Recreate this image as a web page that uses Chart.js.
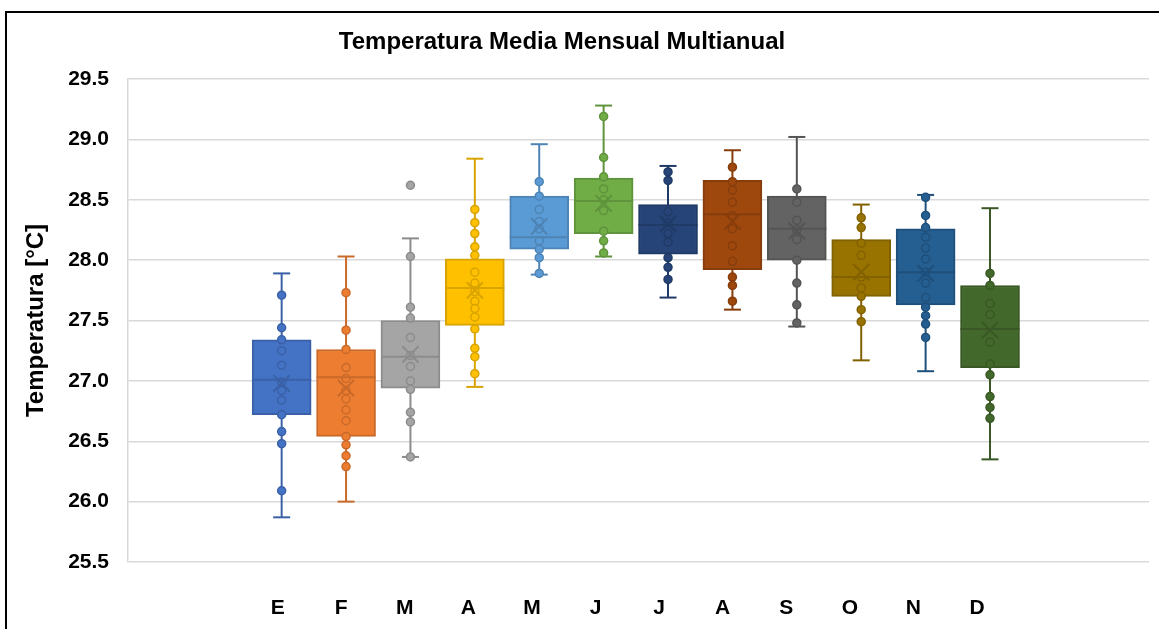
<!DOCTYPE html>
<html>
<head>
<meta charset="utf-8">
<script src="https://cdn.jsdelivr.net/npm/chart.js@4.4.1/dist/chart.umd.min.js"></script>
<style>
  html, body { margin: 0; padding: 0; background: #fff; overflow: hidden; }
  #wrap { position: relative; width: 1159px; height: 629px; }
  #frame { position: absolute; left: 5px; top: 11px; width: 1200px; height: 700px; border: 2px solid #000; box-sizing: border-box; pointer-events: none; }
  canvas { position: absolute; left: 0; top: 0; }
</style>
</head>
<body>
<div id="wrap">
  <canvas id="myChart" width="1159" height="629"></canvas>
  <div id="frame"></div>
</div>
<script>
const months = ['E', 'F', 'M', 'A', 'M', 'J', 'J', 'A', 'S', 'O', 'N', 'D'];

// box statistics (°C)
const whiskerLow  = [25.87, 26.00, 26.37, 26.95, 27.88, 28.03, 27.69, 27.59, 27.45, 27.17, 27.08, 26.35];
const q1          = [26.72, 26.54, 26.94, 27.46, 28.09, 28.22, 28.05, 27.92, 28.00, 27.70, 27.63, 27.11];
const median      = [27.01, 27.03, 27.20, 27.77, 28.19, 28.49, 28.29, 28.38, 28.26, 27.86, 27.90, 27.43];
const q3          = [27.34, 27.26, 27.50, 28.01, 28.53, 28.68, 28.46, 28.66, 28.53, 28.17, 28.26, 27.79];
const whiskerHigh = [27.89, 28.03, 28.18, 28.84, 28.96, 29.28, 28.78, 28.91, 29.02, 28.46, 28.54, 28.43];
const mean        = [26.98, 26.94, 27.22, 27.75, 28.28, 28.47, 28.30, 28.32, 28.24, 27.90, 27.89, 27.42];

// individual yearly values
const ptsEne = [27.71, 27.44, 27.34, 27.25, 27.13, 26.99, 26.92, 26.84, 26.72, 26.58, 26.48, 26.09];
const ptsFeb = [27.73, 27.42, 27.26, 27.11, 27.02, 26.92, 26.85, 26.76, 26.67, 26.54, 26.47, 26.38, 26.29];
const ptsMar = [28.62, 28.03, 27.61, 27.52, 27.36, 27.21, 27.12, 27.00, 26.93, 26.74, 26.66, 26.37];
const ptsAbr = [28.42, 28.31, 28.22, 28.11, 28.04, 27.90, 27.81, 27.74, 27.66, 27.60, 27.53, 27.43, 27.27, 27.20, 27.06];
const ptsMay = [28.65, 28.53, 28.42, 28.32, 28.26, 28.16, 28.09, 28.02, 27.89];
const ptsJun = [29.19, 28.85, 28.69, 28.59, 28.50, 28.41, 28.24, 28.16, 28.06];
const ptsJul = [28.73, 28.66, 28.40, 28.31, 28.22, 28.15, 28.02, 27.94, 27.84];
const ptsAgo = [28.77, 28.65, 28.58, 28.48, 28.37, 28.26, 28.12, 27.99, 27.86, 27.79, 27.66];
const ptsSep = [28.59, 28.48, 28.33, 28.25, 28.17, 28.00, 27.81, 27.63, 27.48];
const ptsOct = [28.35, 28.27, 28.14, 28.04, 27.86, 27.77, 27.70, 27.59, 27.49];
const ptsNov = [28.52, 28.37, 28.27, 28.19, 28.10, 28.01, 27.90, 27.81, 27.69, 27.61, 27.54, 27.47, 27.36];
const ptsDic = [27.89, 27.79, 27.64, 27.55, 27.32, 27.14, 27.05, 26.87, 26.78, 26.69];
const points = [ptsEne, ptsFeb, ptsMar, ptsAbr, ptsMay, ptsJun, ptsJul, ptsAgo, ptsSep, ptsOct, ptsNov, ptsDic];

const fills = ['#4472C4', '#ED7D31', '#A5A5A5', '#FFC000', '#5B9BD5', '#70AD47',
               '#264478', '#9E480E', '#636363', '#997300', '#255E91', '#43682B'];

function darken(hex, f) {
  const n = parseInt(hex.slice(1), 16);
  const r = Math.round(((n >> 16) & 255) * f), g = Math.round(((n >> 8) & 255) * f), b = Math.round((n & 255) * f);
  return 'rgb(' + r + ',' + g + ',' + b + ')';
}
const lines = fills.map(c => darken(c, 0.85));

const FONT = '"Liberation Sans", Arial, sans-serif';

const datasets = [];

// whiskers
months.forEach((m, i) => {
  datasets.push({
    type: 'line', xAxisID: 'x', order: 6,
    data: [{x: i, y: whiskerLow[i]}, {x: i, y: whiskerHigh[i]}],
    borderColor: lines[i], borderWidth: 2, pointRadius: 0
  });
});
// whisker caps
datasets.push({
  type: 'scatter', xAxisID: 'x', order: 5,
  data: months.map((m, i) => ({x: i, y: whiskerLow[i]})).concat(months.map((m, i) => ({x: i, y: whiskerHigh[i]}))),
  pointStyle: 'line', pointRadius: 8.5, borderWidth: 2,
  borderColor: lines.concat(lines)
});
// boxes
datasets.push({
  type: 'bar', xAxisID: 'x', order: 4,
  data: months.map((m, i) => ({x: i, y: [q1[i], q3[i]]})),
  backgroundColor: fills, borderColor: lines, borderWidth: 2, borderSkipped: false,
  barThickness: 59
});
// points
points.forEach((arr, i) => {
  datasets.push({
    type: 'scatter', xAxisID: 'x', order: 3,
    data: arr.map(v => ({x: i, y: v})),
    pointRadius: 4, borderWidth: 1.5,
    backgroundColor: fills[i], borderColor: lines[i]
  });
});
// medians
datasets.push({
  type: 'scatter', xAxisID: 'x', order: 2,
  data: months.map((m, i) => ({x: i, y: median[i]})),
  pointStyle: 'line', pointRadius: 29.5, borderWidth: 2, borderColor: lines
});
// means
datasets.push({
  type: 'scatter', xAxisID: 'x', order: 1,
  data: months.map((m, i) => ({x: i, y: mean[i]})),
  pointStyle: 'crossRot', pointRadius: 11.5, borderWidth: 2, borderColor: lines
});

const titlePlugin = {
  id: 'chartTitle',
  afterDraw(chart) {
    const ctx = chart.ctx;
    ctx.save();
    ctx.font = 'bold 24px ' + FONT;
    ctx.fillStyle = '#000';
    ctx.textAlign = 'center';
    ctx.textBaseline = 'middle';
    ctx.fillText('Temperatura Media Mensual Multianual', 562, 42);
    ctx.restore();
  }
};

const config = {
  type: 'bar',
  data: { datasets: datasets },
  options: {
    responsive: false,
    animation: false,
    events: [],
    layout: { autoPadding: false, padding: { top: 79, right: 10, bottom: 9, left: 0 } },
    plugins: { legend: { display: false }, tooltip: { enabled: false } },
    scales: {
      x: {
        type: 'linear', position: 'bottom', display: false,
        offset: false, bounds: 'data',
        min: -2.386, max: 13.469
      },
      x2: {
        type: 'linear', position: 'bottom',
        offset: false, bounds: 'data',
        min: -2.355, max: 13.706,
        afterBuildTicks: s => { s.ticks = months.map((m, i) => ({value: i})); },
        afterFit: s => { s.height = 58; s.paddingLeft = 0; s.paddingRight = 0; },
        grid: { display: false, drawTicks: false, offset: false },
        border: { display: false },
        ticks: {
          autoSkip: false, maxRotation: 0, padding: 34, color: '#000',
          font: { family: FONT, size: 21, weight: 'bold' },
          callback: v => months[v]
        }
      },
      y: {
        min: 25.5, max: 29.5,
        afterFit: s => { s.width = 128; },
        grid: { color: '#d9d9d9', lineWidth: 1.5, drawTicks: false },
        border: { display: true, color: '#d9d9d9', width: 1.5 },
        ticks: {
          stepSize: 0.5, padding: 19, color: '#000',
          font: { family: FONT, size: 21, weight: 'bold' },
          callback: v => v.toFixed(1)
        },
        title: {
          display: true, text: 'Temperatura [°C]', color: '#000',
          font: { family: FONT, size: 24, weight: 'bold' },
          padding: { top: 22, bottom: 0 }
        }
      }
    }
  },
  plugins: [titlePlugin]
};

const myChart = new Chart(document.getElementById('myChart'), config);
</script>
</body>
</html>
